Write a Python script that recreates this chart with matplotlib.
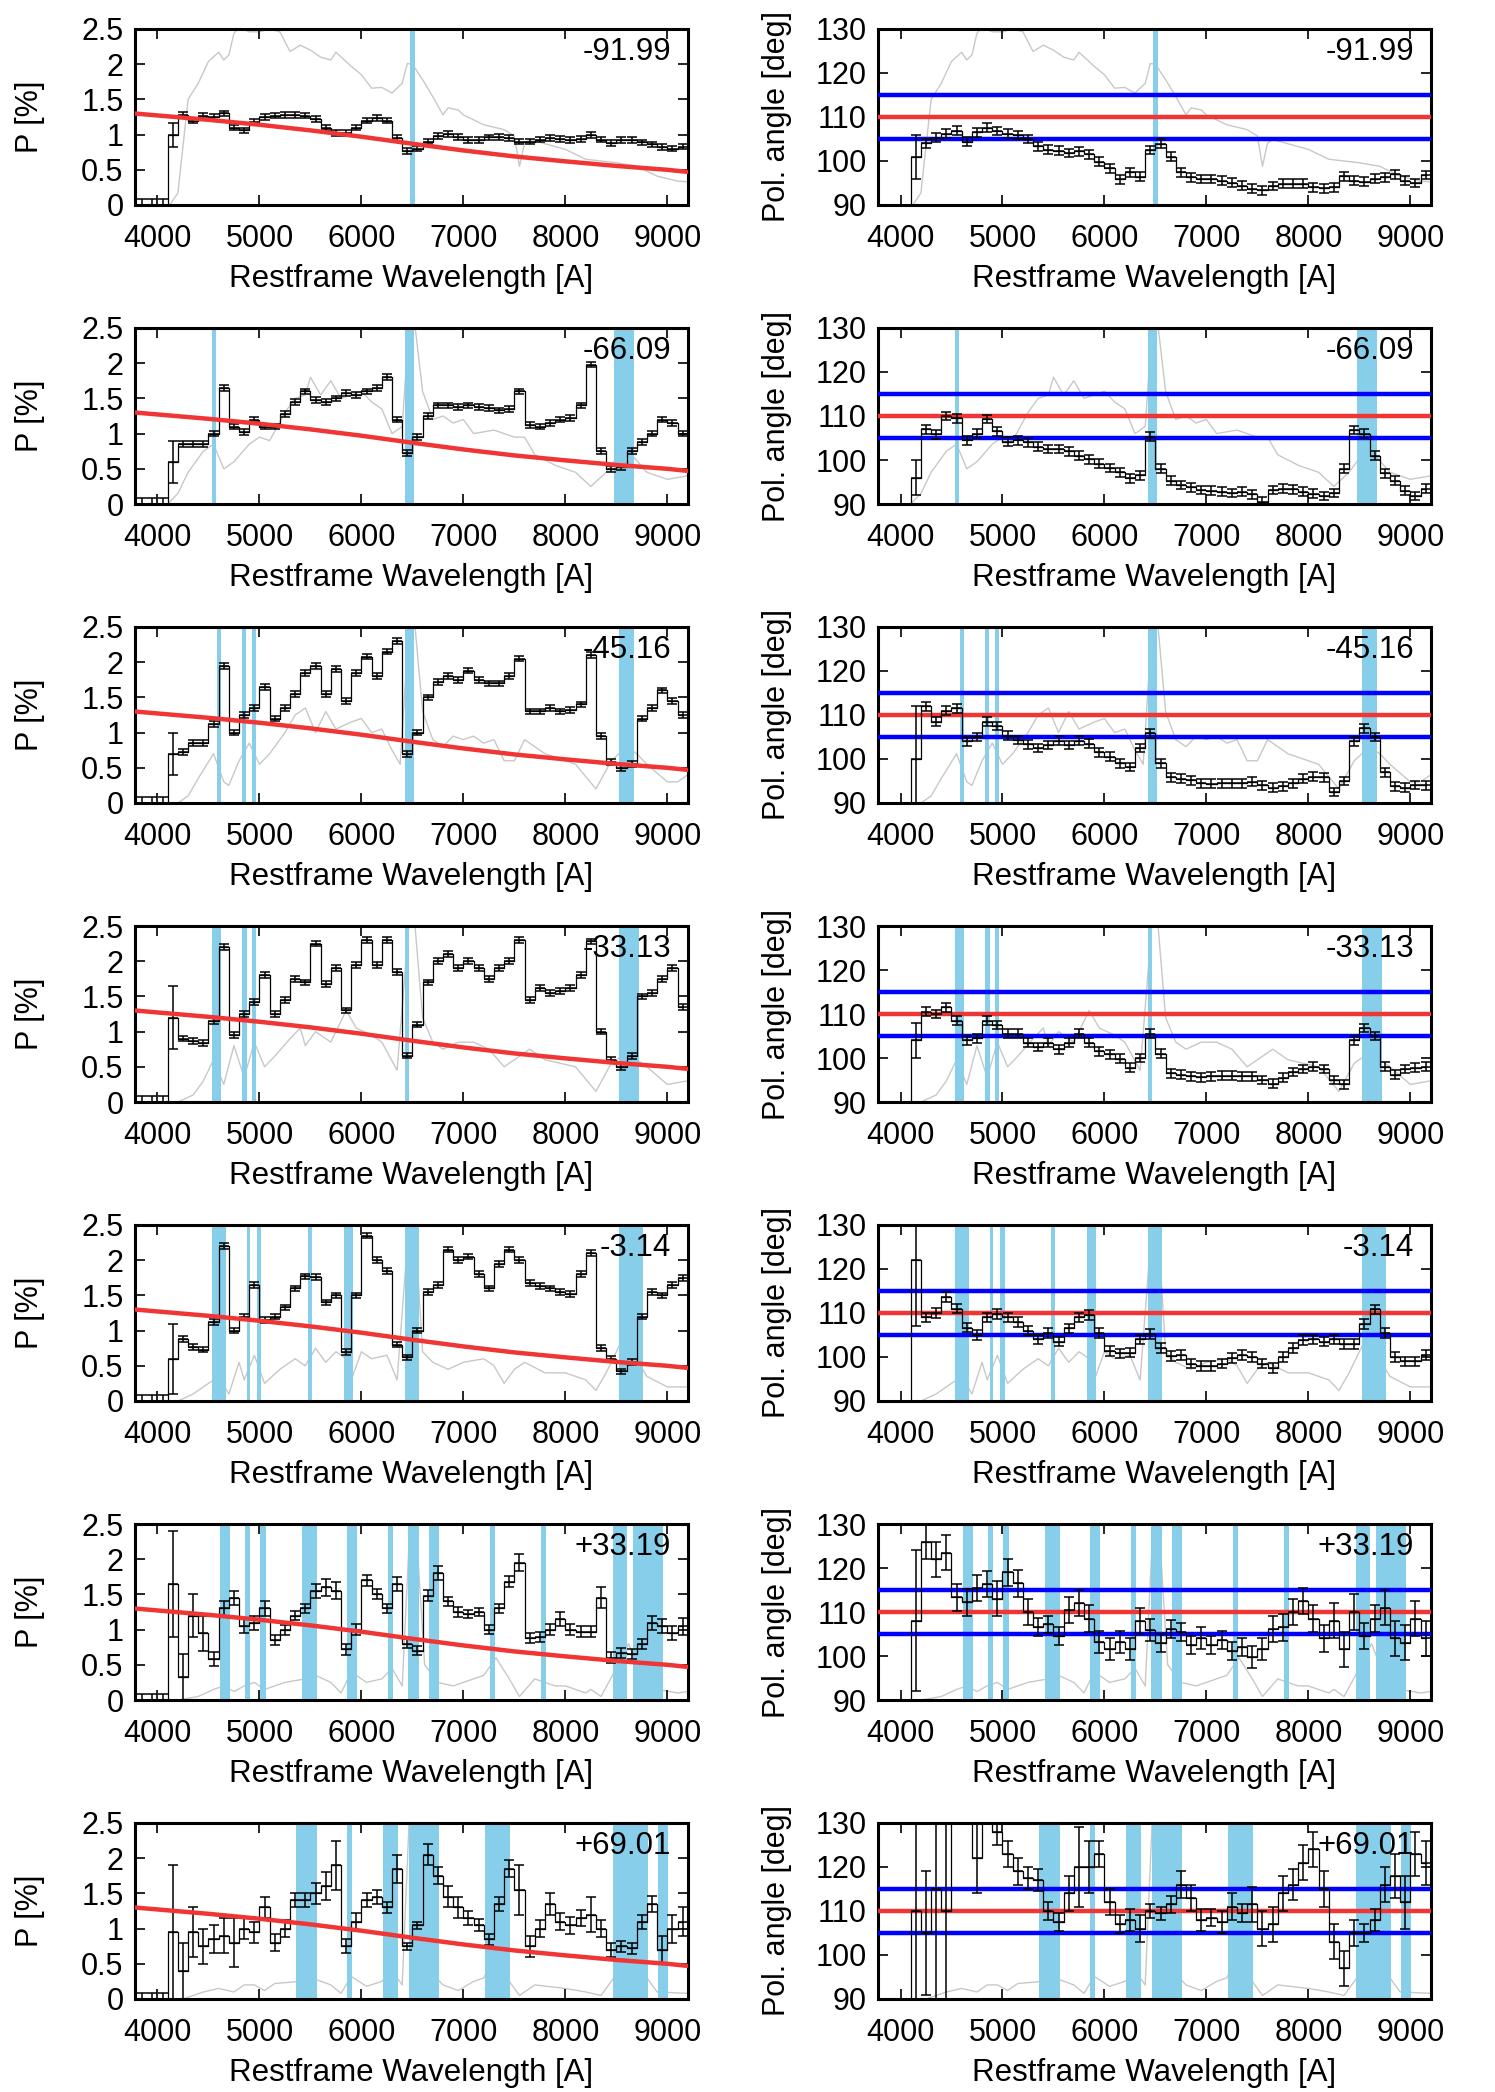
import numpy as np
import matplotlib
matplotlib.use('Agg')
import matplotlib.pyplot as plt

plt.rcParams['font.family'] = ['Liberation Sans', 'DejaVu Sans']

# bin centres (first three bins carry no signal)
wave = np.arange(3850, 9200, 100)
zeros = [0, 0, 0]
zero_err = [0.08, 0.08, 0.08]

epochs = ['-91.99', '-66.09', '-45.16', '-33.13', '-3.14', '+33.19', '+69.01']

# ---- polarisation degree P [%] ----
p_r1 = zeros + [1.0, 1.28, 1.2, 1.27, 1.25, 1.3, 1.1, 1.06, 1.18, 1.25,
                1.27, 1.28, 1.28, 1.27, 1.22, 1.1, 1.02, 1.02, 1.1, 1.2,
                1.24, 1.2, 0.95, 0.77, 0.8, 0.9, 0.98, 1.01, 0.97, 0.92,
                0.92, 0.96, 0.97, 0.95, 0.9, 0.9, 0.93, 0.95, 0.94, 0.92,
                0.94, 0.99, 0.93, 0.88, 0.92, 0.92, 0.89, 0.86, 0.82, 0.8, 0.83]
p_r2 = zeros + [0.6, 0.85, 0.85, 0.85, 1.0, 1.65, 1.1, 1.02, 1.2, 1.1,
                1.1, 1.28, 1.45, 1.6, 1.48, 1.45, 1.5, 1.58, 1.55, 1.6,
                1.65, 1.8, 1.2, 0.72, 0.95, 1.25, 1.4, 1.4, 1.38, 1.4,
                1.38, 1.36, 1.33, 1.35, 1.6, 1.12, 1.1, 1.15, 1.2, 1.22,
                1.4, 1.98, 0.75, 0.5, 0.52, 0.75, 0.88, 1.0, 1.2, 1.15, 1.0]
p_r3 = zeros + [0.7, 0.72, 0.85, 0.85, 1.12, 1.95, 1.0, 1.25, 1.35, 1.65,
                1.2, 1.35, 1.55, 1.85, 1.95, 1.55, 1.9, 1.45, 1.85, 2.08,
                1.8, 2.15, 2.3, 0.7, 1.0, 1.5, 1.72, 1.8, 1.75, 1.88,
                1.75, 1.7, 1.7, 1.8, 2.05, 1.3, 1.3, 1.35, 1.3, 1.32,
                1.4, 2.1, 0.95, 0.58, 0.5, 0.55, 1.2, 1.35, 1.6, 1.45, 1.25]
p_r4 = zeros + [1.2, 0.9, 0.87, 0.84, 1.15, 2.2, 0.95, 1.25, 1.42, 1.8,
                1.25, 1.45, 1.75, 1.7, 2.25, 1.68, 1.9, 1.3, 1.95, 2.3,
                1.95, 2.3, 1.85, 0.66, 1.1, 1.7, 2.0, 2.1, 1.9, 2.0,
                1.9, 1.75, 1.9, 2.0, 2.3, 1.45, 1.62, 1.55, 1.58, 1.62,
                1.8, 2.28, 1.0, 0.6, 0.5, 0.65, 1.5, 1.55, 1.75, 1.9, 1.35]
p_r5 = zeros + [0.6, 0.88, 0.77, 0.73, 1.12, 2.2, 1.0, 1.2, 1.65, 1.15,
                1.2, 1.33, 1.6, 1.77, 1.76, 1.4, 1.5, 0.7, 1.5, 2.35,
                2.0, 1.85, 0.8, 0.62, 1.0, 1.55, 1.65, 2.15, 2.0, 2.05,
                1.8, 1.6, 1.95, 2.15, 2.0, 1.68, 1.63, 1.6, 1.55, 1.52,
                1.8, 2.1, 0.75, 0.6, 0.42, 0.55, 1.2, 1.55, 1.5, 1.65, 1.75]
p_r6 = zeros + [1.65, 0.32, 1.2, 0.95, 0.58, 1.3, 1.45, 1.05, 1.1, 1.3,
                0.85, 1.0, 1.2, 1.3, 1.55, 1.6, 1.55, 0.72, 1.0, 1.7,
                1.5, 1.3, 1.65, 0.8, 0.7, 1.48, 1.8, 1.4, 1.25, 1.22,
                1.25, 1.0, 1.3, 1.68, 1.95, 0.88, 0.9, 1.0, 1.15, 1.0,
                0.97, 0.97, 1.45, 0.6, 0.67, 0.65, 0.8, 1.1, 1.05, 0.95, 1.05]
p_r7 = zeros + [0.95, 0.4, 0.95, 0.75, 0.85, 0.9, 0.8, 1.0, 0.95, 1.3,
                0.8, 1.0, 1.4, 1.4, 1.5, 1.6, 1.9, 0.75, 1.1, 1.4,
                1.45, 1.3, 1.85, 0.75, 1.05, 2.05, 1.75, 1.45, 1.3, 1.15,
                1.05, 0.85, 1.35, 1.85, 1.55, 0.75, 1.0, 1.35, 1.1, 1.05,
                1.15, 1.2, 1.0, 0.7, 0.75, 0.72, 1.1, 1.35, 0.7, 1.0, 1.1]

pe_r1 = zero_err + [0.17] + [0.04] * 50
pe_r2 = zero_err + [0.3] + [0.04] * 50
pe_r3 = zero_err + [0.3] + [0.04] * 50
pe_r4 = zero_err + [0.45] + [0.04] * 50
pe_r5 = zero_err + [0.5] + [0.04] * 50
pe_r6 = zero_err + [0.75, 0.33, 0.3, 0.25, 0.1, 0.1, 0.1, 0.1, 0.1, 0.1,
                    0.07, 0.07, 0.07, 0.07, 0.1, 0.12, 0.12, 0.08, 0.08, 0.08,
                    0.07, 0.07, 0.1, 0.06, 0.06, 0.08, 0.1, 0.07, 0.07, 0.06,
                    0.06, 0.06, 0.07, 0.08, 0.12, 0.07, 0.07, 0.08, 0.1, 0.08,
                    0.08, 0.08, 0.15, 0.08, 0.07, 0.07, 0.07, 0.1, 0.1, 0.1, 0.12]
pe_r7 = zero_err + [0.95, 0.4, 0.35, 0.25, 0.2, 0.25, 0.35, 0.15, 0.15, 0.15,
                    0.12, 0.12, 0.1, 0.1, 0.15, 0.2, 0.35, 0.1, 0.12, 0.1,
                    0.1, 0.08, 0.2, 0.05, 0.05, 0.15, 0.12, 0.15, 0.15, 0.1,
                    0.08, 0.08, 0.1, 0.12, 0.35, 0.15, 0.12, 0.15, 0.12, 0.12,
                    0.12, 0.25, 0.12, 0.1, 0.08, 0.08, 0.1, 0.12, 0.2, 0.2, 0.2]

# ---- polarisation angle [deg] ----
a_r1 = zeros + [101, 104, 105.3, 106.2, 106.9, 104.4, 106.5, 107.6, 106.8, 106.2,
                105.9, 105, 103.3, 102.6, 102.3, 101.8, 102.2, 101.5, 99.8, 98.3,
                95.8, 97.4, 96.4, 102.5, 103.9, 101, 97.4, 96.3, 95.9, 95.9,
                95.5, 95.1, 94.4, 93.7, 93.3, 94.3, 94.8, 94.8, 94.8, 94,
                93.8, 94, 96.5, 95.5, 95.3, 96, 96.3, 97, 95.5, 95, 96.8]
a_r2 = zeros + [96, 107, 105.8, 110, 109.5, 104.5, 106, 109.3, 106.5, 104.2,
                104.5, 104, 103, 102.5, 102.5, 102, 101, 100.2, 99.2, 98.2,
                97.2, 95.8, 96.5, 105.3, 98, 95.3, 94.3, 93.8, 93.2, 93,
                92.8, 92.5, 92.8, 92.2, 90.5, 93.2, 93.5, 93.3, 92.8, 92.3,
                91.8, 92.5, 98, 106.8, 106, 101, 97, 95.3, 93, 91.8, 93.5]
a_r3 = zeros + [100, 112, 108.5, 111, 111.5, 104, 105, 108.5, 107.5, 105.3,
                104.3, 103.3, 102.5, 103.2, 104.2, 103.2, 104.2, 103.5, 101.5, 100.5,
                99, 98.2, 102.5, 105.8, 99, 95.8, 95.5, 95.2, 94.5, 94.4,
                94.5, 94.5, 94.5, 94.8, 94, 93.5, 93.8, 94.5, 95.5, 96,
                95.8, 92.5, 95, 104, 107, 105, 97, 93.8, 93.5, 94.1, 94]
a_r4 = zeros + [104, 110.5, 110, 111.5, 108.5, 104, 104.5, 108.5, 107.5, 105.5,
                105.5, 103.5, 102.5, 103.5, 102, 103.5, 105.5, 103.5, 101.5, 100.8,
                99.8, 97.8, 100, 105.5, 101, 96.5, 96.2, 95.8, 95.6, 95.8,
                96, 96, 95.8, 95.8, 95, 94.2, 95.5, 96.8, 97.5, 98,
                97.5, 95, 94, 104, 106.8, 105, 98, 96.2, 97.5, 97.8, 98]
a_r5 = zeros + [122, 109, 110, 113.7, 111, 106.7, 105, 109, 109.8, 109,
                108, 106, 104, 105.5, 103.5, 106.5, 109, 109.5, 105.5, 101.3,
                100.8, 101, 104, 105.2, 102, 100.3, 100.5, 98.5, 98, 98,
                98.5, 99.8, 100.5, 100, 98.5, 97.5, 100, 102, 103.8, 104,
                103.5, 104, 103, 103, 107.5, 110.8, 105.5, 100, 99, 99, 100.5]
a_r6 = zeros + [108, 126, 122, 123.5, 113.3, 112.2, 115.5, 116.3, 113, 119,
                116.5, 110, 106.6, 107.2, 104.5, 110.5, 112, 108.5, 103.2, 101.5,
                103.2, 101.5, 108, 106, 103, 106.2, 105.5, 102.5, 104, 102.5,
                103.7, 101.2, 102, 99.8, 101.5, 106.2, 106.5, 110, 112.5, 108.5,
                104, 108, 101.5, 110, 104.5, 108.5, 111, 104, 103, 108.5, 104]
a_r7 = zeros + [110, 105, 115, 110, 135, 135, 122, 135, 128, 123,
                119, 117.5, 117, 110, 107.5, 114, 120, 120, 123, 112,
                107, 108, 106, 110, 109.5, 111.5, 116, 113, 108, 108.5,
                107.5, 111, 109.5, 111.5, 106, 107, 114, 116, 121, 124,
                115, 103, 97, 105, 105, 108, 116, 118, 112, 123, 121]

ae_r1 = zeros + [5] + [1.0] * 50
ae_r2 = zeros + [4] + [1.0] * 50
ae_r3 = zeros + [12] + [1.0] * 50
ae_r4 = zeros + [4] + [1.0] * 50
ae_r5 = zeros + [15] + [1.1] * 50
ae_r6 = zeros + [16, 4, 4, 4, 3, 3, 3, 3, 4, 3,
                 3, 3, 2, 2, 2, 3, 3, 3, 2.5, 2.5,
                 2.5, 2.5, 3, 2.5, 2, 2, 2, 2, 2.5, 2,
                 2, 2, 2, 2.5, 2.5, 3, 3, 3, 3, 3,
                 3, 4, 4, 4, 3, 3, 4, 4, 4, 4, 4]
ae_r7 = zeros + [60, 14, 40, 40, 5, 5, 8, 5, 3, 3,
                 3, 2.5, 2.5, 2, 2, 4, 9, 6, 3, 3,
                 2, 2.5, 3, 1.5, 1.5, 2, 3, 3, 2.5, 2,
                 2.5, 3, 2, 4, 4, 4, 4, 3.5, 4, 4,
                 4, 4, 4, 3, 2, 2.5, 4, 5, 6, 5, 5]

# ---- scaled flux spectrum (in P units) ----
fw_r1 = [4120, 4200, 4300, 4400, 4500, 4600, 4650, 4700, 4750, 4800, 4900, 5000, 5100, 5200,
         5300, 5400, 5500, 5600, 5700, 5750, 5900, 6000, 6100, 6200, 6300, 6400, 6450, 6500,
         6600, 6700, 6800, 6850, 6950, 7000, 7200, 7400, 7500, 7550, 7600, 7650, 8000, 8200,
         8500, 8700, 8900, 9100, 9200]
fl_r1 = [0, 0.17, 1.5, 1.73, 2.04, 2.17, 2.06, 2.13, 2.44, 2.52, 2.46, 2.46, 2.5, 2.46,
         2.18, 2.27, 2.2, 2.1, 2.06, 2.17, 1.97, 1.85, 1.66, 1.67, 1.59, 1.73, 2.01, 2.0,
         1.78, 1.54, 1.28, 1.38, 1.35, 1.28, 1.14, 1.07, 0.98, 0.55, 0.88, 0.93, 0.79, 0.65,
         0.6, 0.55, 0.41, 0.34, 0.33]
fw_r2 = [4100, 4200, 4300, 4450, 4550, 4650, 4750, 4900, 5000, 5100, 5250, 5350, 5450, 5500,
         5600, 5700, 5800, 5900, 6000, 6100, 6200, 6300, 6400, 6470, 6520, 6600, 6700, 6800,
         6900, 7000, 7100, 7300, 7500, 7600, 7700, 7900, 8100, 8250, 8400, 8550, 8650, 8800,
         9000, 9200]
fl_r2 = [0, 0.15, 0.45, 0.75, 0.85, 0.5, 0.6, 0.85, 0.95, 0.9, 1.3, 1.5, 1.55, 1.8,
         1.55, 1.75, 1.5, 1.55, 1.6, 1.45, 1.35, 1.0, 1.1, 2.6, 2.6, 1.6, 1.2, 1.25,
         1.15, 1.2, 1.0, 1.05, 0.95, 0.95, 0.7, 0.55, 0.45, 0.25, 0.45, 0.75, 0.7, 0.45,
         0.35, 0.4]
fw_r3 = [4200, 4300, 4400, 4550, 4650, 4700, 4800, 4900, 5000, 5100, 5250, 5350, 5450, 5550,
         5650, 5750, 5900, 6000, 6100, 6200, 6300, 6380, 6470, 6520, 6600, 6700, 6800, 6900,
         7000, 7100, 7200, 7300, 7400, 7500, 7600, 7700, 7800, 8000, 8100, 8300, 8450, 8600,
         8700, 8800, 9000, 9100, 9200]
fl_r3 = [0, 0.1, 0.35, 0.7, 0.3, 0.25, 0.6, 0.85, 0.55, 0.7, 1.0, 1.25, 1.35, 1.0,
         1.3, 1.05, 1.15, 1.2, 1.0, 1.05, 0.75, 0.55, 2.6, 2.6, 1.3, 0.9, 0.8, 0.95,
         0.9, 0.95, 0.85, 0.9, 0.6, 0.6, 0.9, 0.8, 0.7, 0.6, 0.55, 0.2, 0.6, 0.8,
         0.7, 0.55, 0.3, 0.3, 0.4]
fw_r4 = [4200, 4350, 4450, 4550, 4650, 4750, 4850, 4950, 5050, 5150, 5300, 5400, 5450, 5550,
         5700, 5850, 5950, 6100, 6200, 6350, 6470, 6520, 6600, 6700, 6800, 6950, 7100, 7250,
         7400, 7500, 7650, 7800, 8100, 8300, 8450, 8600, 8800, 9000, 9200]
fl_r4 = [0, 0.1, 0.3, 0.6, 0.25, 0.8, 0.35, 0.85, 0.5, 0.65, 0.9, 1.05, 0.8, 1.0,
         0.85, 1.3, 1.05, 0.95, 0.85, 0.45, 2.6, 2.6, 1.2, 0.85, 0.75, 0.85, 0.85, 0.75,
         0.5, 0.6, 0.75, 0.6, 0.5, 0.15, 0.55, 0.7, 0.5, 0.25, 0.3]
fw_r5 = [4200, 4350, 4500, 4600, 4700, 4800, 4850, 4950, 5050, 5200, 5350, 5450, 5550, 5650,
         5750, 5850, 5900, 6000, 6100, 6250, 6350, 6470, 6520, 6600, 6700, 6850, 7000, 7200,
         7300, 7400, 7500, 7600, 7800, 8000, 8200, 8300, 8400, 8550, 8650, 8800, 9000, 9200]
fl_r5 = [0, 0.1, 0.25, 0.35, 0.1, 0.55, 0.3, 0.65, 0.25, 0.45, 0.6, 0.5, 0.75, 0.55,
         0.7, 0.6, 0.3, 0.7, 0.6, 0.65, 0.3, 2.6, 2.6, 0.7, 0.55, 0.45, 0.55, 0.6,
         0.5, 0.25, 0.45, 0.55, 0.4, 0.4, 0.3, 0.15, 0.4, 0.85, 0.7, 0.35, 0.2, 0.2]
fw_r6 = [4200, 4400, 4550, 4650, 4750, 4850, 4950, 5050, 5250, 5450, 5550, 5700, 5800, 5900,
         6050, 6200, 6300, 6400, 6480, 6530, 6620, 6750, 6900, 7100, 7200, 7320, 7450, 7550,
         7700, 7900, 8000, 8200, 8250, 8350, 8500, 8620, 8700, 8900, 9100, 9200]
fl_r6 = [0, 0.05, 0.15, 0.2, 0.12, 0.2, 0.25, 0.15, 0.25, 0.3, 0.35, 0.25, 0.1, 0.4,
         0.25, 0.3, 0.45, 0.2, 2.6, 2.6, 0.5, 0.25, 0.2, 0.3, 0.35, 0.6, 0.3, 0.05,
         0.3, 0.2, 0.2, 0.1, 0.15, 0.05, 0.45, 0.8, 0.5, 0.15, 0.1, 0.12]
fw_r7 = [4250, 4450, 4600, 4750, 4850, 4950, 5050, 5150, 5400, 5550, 5700, 5800, 5900, 6050,
         6200, 6300, 6400, 6470, 6520, 6600, 6800, 6950, 7100, 7200, 7300, 7450, 7550, 7700,
         8000, 8200, 8350, 8500, 8620, 8700, 8900, 9200]
fl_r7 = [0, 0.1, 0.15, 0.1, 0.2, 0.2, 0.12, 0.22, 0.25, 0.28, 0.2, 0.08, 0.32, 0.18,
         0.25, 0.4, 0.2, 2.6, 2.6, 0.5, 0.2, 0.12, 0.25, 0.3, 0.6, 0.25, 0.05, 0.2,
         0.15, 0.1, 0.05, 0.35, 0.65, 0.5, 0.1, 0.08]

# ---- masked wavelength ranges ----
bands_r1 = [(6480, 6530)]
bands_r2 = [(4530, 4570), (6430, 6520), (8480, 8675)]
bands_r3 = [(4580, 4620), (4830, 4865), (4930, 4965), (6430, 6515), (8530, 8670)]
bands_r4 = [(4530, 4625), (4830, 4875), (4930, 4970), (6430, 6470), (8525, 8725)]
bands_r5 = [(4530, 4670), (4880, 4910), (4980, 5020), (5475, 5515), (5830, 5915),
            (6430, 6565), (8530, 8765)]
bands_r6 = [(4615, 4710), (4860, 4910), (5010, 5060), (5415, 5560), (5860, 5955),
            (6262, 6310), (6460, 6560), (6660, 6760), (7265, 7312), (7760, 7810),
            (8465, 8608), (8660, 8958)]
bands_r7 = [(5362, 5560), (5858, 5912), (6212, 6358), (6464, 6760), (7212, 7458),
            (8465, 8808), (8910, 9005)]

# interstellar polarisation
isp_wave = [3775, 4500, 5000, 5500, 6000, 6500, 7000, 7500, 8000, 8500, 9000, 9200]
isp_p = [1.30, 1.21, 1.14, 1.06, 0.97, 0.87, 0.775, 0.69, 0.62, 0.555, 0.50, 0.47]
isp_angle = 110
isp_angle_band = [105, 115]

rows = [
    (p_r1, pe_r1, a_r1, ae_r1, fw_r1, fl_r1, bands_r1),
    (p_r2, pe_r2, a_r2, ae_r2, fw_r2, fl_r2, bands_r2),
    (p_r3, pe_r3, a_r3, ae_r3, fw_r3, fl_r3, bands_r3),
    (p_r4, pe_r4, a_r4, ae_r4, fw_r4, fl_r4, bands_r4),
    (p_r5, pe_r5, a_r5, ae_r5, fw_r5, fl_r5, bands_r5),
    (p_r6, pe_r6, a_r6, ae_r6, fw_r6, fl_r6, bands_r6),
    (p_r7, pe_r7, a_r7, ae_r7, fw_r7, fl_r7, bands_r7),
]

W, H = 1495, 2092
fig = plt.figure(figsize=(W / 100, H / 100), dpi=100)

col_x = [0.09, 0.587]
ax_w = 0.37
ax_h = 176 / H

blue = '#87ceeb'


def style(ax, ylim, yticks, yticklabels):
    ax.set_xlim(3775, 9200)
    ax.set_ylim(*ylim)
    ax.set_xticks([4000, 5000, 6000, 7000, 8000, 9000])
    ax.set_yticks(yticks)
    ax.set_yticklabels(yticklabels)
    ax.tick_params(direction='in', length=7, width=1.2, top=True, right=True,
                   labelsize=22)
    ax.tick_params(axis='x', pad=14)
    ax.tick_params(axis='y', pad=8)
    for s in ax.spines.values():
        s.set_linewidth(2.2)
    ax.set_xlabel('Restframe Wavelength [A]', fontsize=22.5, labelpad=7)


def data(ax, y, yerr):
    ax.plot(wave, y, drawstyle='steps-mid', color='black', lw=0.9, zorder=4)
    ax.errorbar(wave, y, xerr=50, fmt='none', ecolor='black',
                elinewidth=1.1, capsize=0, zorder=4)
    ax.errorbar(wave, y, yerr=yerr, fmt='none', ecolor='black',
                elinewidth=1.1, capsize=3.5, capthick=1.1, zorder=4)


for i, (p, pe, a, ae, fw, fl, bands) in enumerate(rows):
    top = 29 + 299 * i
    y0 = 1 - (top + 176) / H

    # P panel
    ax = fig.add_axes([col_x[0], y0, ax_w, ax_h])
    ax.plot(fw, fl, color='#c8c8c8', lw=1.0, zorder=1)
    for lo, hi in bands:
        ax.axvspan(lo, hi, color=blue, lw=0, zorder=2)
    data(ax, p, pe)
    ax.plot(isp_wave, isp_p, color='#f03535', lw=3.2, zorder=5)
    style(ax, (0, 2.5), [0, 0.5, 1, 1.5, 2, 2.5], ['0', '0.5', '1', '1.5', '2', '2.5'])
    ax.set_ylabel('P [%]', fontsize=22, labelpad=26)
    ax.text(0.97, 0.955, epochs[i], transform=ax.transAxes, ha='right', va='top',
            fontsize=22.5, zorder=6)

    # angle panel
    ax = fig.add_axes([col_x[1], y0, ax_w, ax_h])
    ax.plot(fw, 90 + 16 * np.array(fl), color='#c8c8c8', lw=1.0, zorder=1)
    for lo, hi in bands:
        ax.axvspan(lo, hi, color=blue, lw=0, zorder=2)
    ax.axhline(isp_angle_band[0], color='#0000ff', lw=3.2, zorder=3)
    ax.axhline(isp_angle_band[1], color='#0000ff', lw=3.2, zorder=3)
    ax.axhline(isp_angle, color='#f03535', lw=3.2, zorder=3)
    data(ax, a, ae)
    style(ax, (90, 130), [90, 100, 110, 120, 130], ['90', '100', '110', '120', '130'])
    ax.set_ylabel('Pol. angle [deg]', fontsize=22, labelpad=17)
    ax.text(0.97, 0.955, epochs[i], transform=ax.transAxes, ha='right', va='top',
            fontsize=22.5, zorder=6)

fig.savefig('out.png', dpi=100)
